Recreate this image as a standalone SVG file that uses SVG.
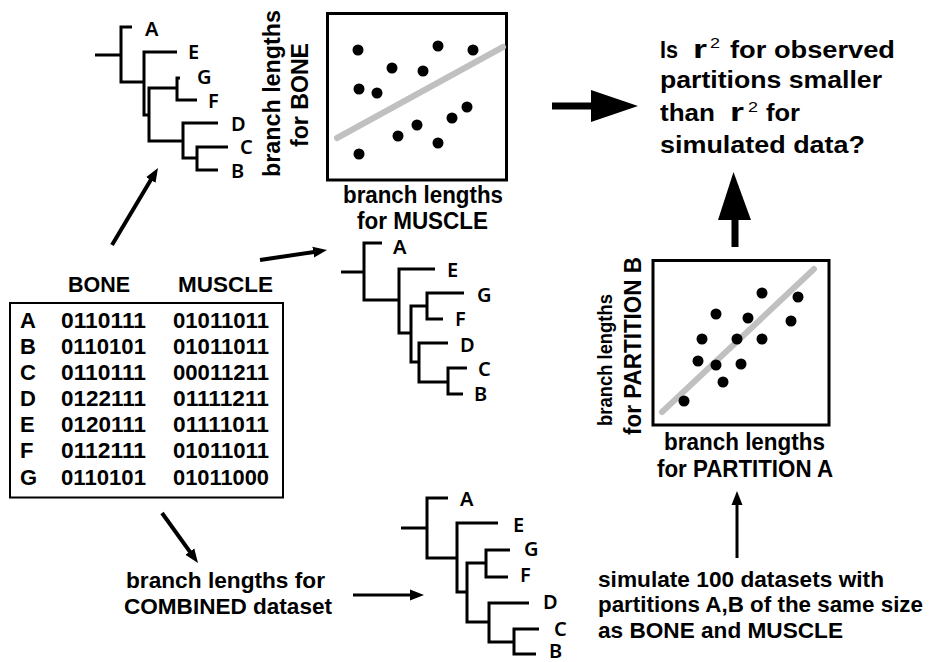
<svg xmlns="http://www.w3.org/2000/svg" width="935" height="662" viewBox="0 0 935 662">
  <style>
    .b { font-family: "Liberation Sans", Arial, sans-serif; font-weight: 700; font-size: 23px; fill: #000; }
    .m { font-family: "Liberation Sans", Arial, sans-serif; font-weight: 700; font-size: 22px; fill: #000; }
    .sup { font-family: "Liberation Sans", Arial, sans-serif; font-weight: 400; font-size: 14px; fill: #000; }
    .t { font-family: "Noto Sans", "DejaVu Sans", sans-serif; font-weight: 600; font-size: 20px; fill: #000; }
    .br { fill: none; stroke: #000; stroke-width: 3; stroke-linejoin: miter; }
    .box { fill: none; stroke: #000; stroke-width: 3; }
    .fit { fill: none; stroke: #c0c0c0; stroke-width: 6; stroke-linecap: round; }
    .dot { fill: #000; }
    .arw { fill: none; stroke: #000; stroke-width: 4; marker-end: url(#head); }
    .arw3 { fill: none; stroke: #000; stroke-width: 3; marker-end: url(#head); }
  </style>
  <defs>
    <marker id="head" markerUnits="userSpaceOnUse" markerWidth="15" markerHeight="12" refX="8" refY="6" orient="auto">
      <path d="M0,0.5 L14,6 L0,11.5 z" fill="#000"/>
    </marker>
  </defs>

  <rect width="935" height="662" fill="#fff"/>

  <!-- tree estimated from BONE -->
  <g id="tree-bone">
    <path class="br" d="M95,55 H121"/>
    <path class="br" d="M132,27 H121 V82 H144"/>
    <path class="br" d="M177,52 H144 V115 H149"/>
    <path class="br" d="M177,88 H149 V141 H183"/>
    <path class="br" d="M180,78 H177 V100 H197"/>
    <path class="br" d="M218,123 H183 V158 H197"/>
    <path class="br" d="M228,147 H197 V170 H218"/>
    <text class="t" x="145" y="36">A</text>
    <text class="t" x="188" y="59">E</text>
    <text class="t" x="197" y="84">G</text>
    <text class="t" x="208" y="108">F</text>
    <text class="t" x="231" y="131">D</text>
    <text class="t" x="240" y="154">C</text>
    <text class="t" x="231" y="178">B</text>
  </g>

  <!-- observed scatter: BONE vs MUSCLE -->
  <g id="scatter-observed">
    <rect class="box" x="327.5" y="13.5" width="179" height="166.5"/>
    <line class="fit" x1="337" y1="138" x2="503" y2="47"/>
    <g class="dot">
      <circle cx="358" cy="50" r="5.5"/>
      <circle cx="438" cy="46" r="5.5"/>
      <circle cx="473" cy="50" r="5.5"/>
      <circle cx="392" cy="68" r="5.5"/>
      <circle cx="423" cy="71" r="5.5"/>
      <circle cx="359" cy="89" r="5.5"/>
      <circle cx="377" cy="93" r="5.5"/>
      <circle cx="467" cy="107" r="5.5"/>
      <circle cx="452" cy="118" r="5.5"/>
      <circle cx="417" cy="125" r="5.5"/>
      <circle cx="398" cy="136" r="5.5"/>
      <circle cx="438" cy="143" r="5.5"/>
      <circle cx="359" cy="154" r="5.5"/>
    </g>
    <text class="b" transform="translate(280,177) rotate(-90)" textLength="167" lengthAdjust="spacingAndGlyphs">branch lengths</text>
    <text class="b" transform="translate(308,147) rotate(-90)" textLength="104" lengthAdjust="spacingAndGlyphs">for BONE</text>
    <text class="b" x="343" y="203" textLength="160" lengthAdjust="spacingAndGlyphs">branch lengths</text>
    <text class="b" x="357" y="229" textLength="131" lengthAdjust="spacingAndGlyphs">for MUSCLE</text>
  </g>

  <!-- question -->
  <g id="question">
    <text class="b" x="660" y="58" textLength="18" lengthAdjust="spacingAndGlyphs">Is</text>
    <text class="b" x="693" y="58" style="font-size:26px" textLength="14" lengthAdjust="spacingAndGlyphs">r</text>
    <text class="sup" x="710" y="48" textLength="10" lengthAdjust="spacingAndGlyphs">2</text>
    <text class="b" x="730" y="58" textLength="165" lengthAdjust="spacingAndGlyphs">for observed</text>
    <text class="b" x="660" y="88" textLength="222" lengthAdjust="spacingAndGlyphs">partitions smaller</text>
    <text class="b" x="660" y="121" textLength="55" lengthAdjust="spacingAndGlyphs">than</text>
    <text class="b" x="730" y="121" style="font-size:26px" textLength="14" lengthAdjust="spacingAndGlyphs">r</text>
    <text class="sup" x="748" y="112" textLength="10" lengthAdjust="spacingAndGlyphs">2</text>
    <text class="b" x="766" y="121" textLength="34" lengthAdjust="spacingAndGlyphs">for</text>
    <text class="b" x="660" y="153" textLength="205" lengthAdjust="spacingAndGlyphs">simulated data?</text>
  </g>

  <!-- tree estimated from MUSCLE -->
  <g id="tree-muscle">
    <path class="br" d="M341,272 H364"/>
    <path class="br" d="M382,243 H364 V300 H399"/>
    <path class="br" d="M435,269 H399 V333 H411"/>
    <path class="br" d="M427,306 H411 V362 H419"/>
    <path class="br" d="M464,293 H427 V319 H443"/>
    <path class="br" d="M448,343 H419 V382 H448"/>
    <path class="br" d="M467,368 H448 V394 H463"/>
    <text class="t" x="393" y="254">A</text>
    <text class="t" x="447" y="277">E</text>
    <text class="t" x="477" y="302">G</text>
    <text class="t" x="455" y="326">F</text>
    <text class="t" x="460" y="352">D</text>
    <text class="t" x="478" y="376">C</text>
    <text class="t" x="474" y="401">B</text>
  </g>

  <!-- character matrix -->
  <g id="matrix">
    <text class="m" x="68" y="292" textLength="62" lengthAdjust="spacingAndGlyphs">BONE</text>
    <text class="m" x="178" y="292" textLength="95" lengthAdjust="spacingAndGlyphs">MUSCLE</text>
    <rect x="10" y="303" width="273" height="194.5" fill="none" stroke="#000" stroke-width="2"/>
    <g>
      <text class="m" x="20" y="328">A</text>
      <text class="m" x="61" y="328" textLength="85" lengthAdjust="spacingAndGlyphs">0110111</text>
      <text class="m" x="173" y="328" textLength="96" lengthAdjust="spacingAndGlyphs">01011011</text>
      <text class="m" x="20" y="354">B</text>
      <text class="m" x="61" y="354" textLength="85" lengthAdjust="spacingAndGlyphs">0110101</text>
      <text class="m" x="173" y="354" textLength="96" lengthAdjust="spacingAndGlyphs">01011011</text>
      <text class="m" x="20" y="380">C</text>
      <text class="m" x="61" y="380" textLength="85" lengthAdjust="spacingAndGlyphs">0110111</text>
      <text class="m" x="173" y="380" textLength="96" lengthAdjust="spacingAndGlyphs">00011211</text>
      <text class="m" x="20" y="406">D</text>
      <text class="m" x="61" y="406" textLength="85" lengthAdjust="spacingAndGlyphs">0122111</text>
      <text class="m" x="173" y="406" textLength="96" lengthAdjust="spacingAndGlyphs">01111211</text>
      <text class="m" x="20" y="432">E</text>
      <text class="m" x="61" y="432" textLength="85" lengthAdjust="spacingAndGlyphs">0120111</text>
      <text class="m" x="173" y="432" textLength="96" lengthAdjust="spacingAndGlyphs">01111011</text>
      <text class="m" x="20" y="458">F</text>
      <text class="m" x="61" y="458" textLength="85" lengthAdjust="spacingAndGlyphs">0112111</text>
      <text class="m" x="173" y="458" textLength="96" lengthAdjust="spacingAndGlyphs">01011011</text>
      <text class="m" x="20" y="485">G</text>
      <text class="m" x="61" y="485" textLength="85" lengthAdjust="spacingAndGlyphs">0110101</text>
      <text class="m" x="173" y="485" textLength="96" lengthAdjust="spacingAndGlyphs">01011000</text>
    </g>
  </g>

  <!-- simulated scatter: partition A vs partition B -->
  <g id="scatter-simulated">
    <rect class="box" x="653" y="260.5" width="176" height="164.5"/>
    <line class="fit" x1="662" y1="412" x2="814" y2="269"/>
    <g class="dot">
      <circle cx="762" cy="293" r="5.5"/>
      <circle cx="798" cy="297" r="5.5"/>
      <circle cx="716" cy="314" r="5.5"/>
      <circle cx="748" cy="318" r="5.5"/>
      <circle cx="791" cy="321" r="5.5"/>
      <circle cx="702" cy="339" r="5.5"/>
      <circle cx="737" cy="339" r="5.5"/>
      <circle cx="762" cy="339" r="5.5"/>
      <circle cx="698" cy="361" r="5.5"/>
      <circle cx="716" cy="365" r="5.5"/>
      <circle cx="741" cy="364" r="5.5"/>
      <circle cx="723" cy="382" r="5.5"/>
      <circle cx="684" cy="401" r="5.5"/>
    </g>
    <text class="b" transform="translate(612,426) rotate(-90)" style="font-size:21px" textLength="132" lengthAdjust="spacingAndGlyphs">branch lengths</text>
    <text class="b" transform="translate(641,435) rotate(-90)" textLength="178" lengthAdjust="spacingAndGlyphs">for PARTITION B</text>
    <text class="b" x="664" y="450" textLength="161" lengthAdjust="spacingAndGlyphs">branch lengths</text>
    <text class="b" x="657" y="477" textLength="176" lengthAdjust="spacingAndGlyphs">for PARTITION A</text>
  </g>

  <!-- combined-data label -->
  <g id="combined-label">
    <text class="m" x="126" y="588" textLength="199" lengthAdjust="spacingAndGlyphs">branch lengths for</text>
    <text class="m" x="124" y="614" textLength="208" lengthAdjust="spacingAndGlyphs">COMBINED dataset</text>
  </g>

  <!-- tree estimated from the combined data -->
  <g id="tree-combined">
    <path class="br" d="M401,528 H427"/>
    <path class="br" d="M448,498 H427 V558 H457"/>
    <path class="br" d="M498,523 H457 V592 H467"/>
    <path class="br" d="M486,563 H467 V622 H489"/>
    <path class="br" d="M510,550 H486 V577 H508"/>
    <path class="br" d="M529,603 H489 V642 H514"/>
    <path class="br" d="M539,629 H514 V654 H536"/>
    <text class="t" x="460" y="506">A</text>
    <text class="t" x="513" y="532">E</text>
    <text class="t" x="524" y="556">G</text>
    <text class="t" x="520" y="582">F</text>
    <text class="t" x="543" y="609">D</text>
    <text class="t" x="554" y="636">C</text>
    <text class="t" x="549" y="658">B</text>
  </g>

  <!-- simulation label -->
  <g id="simulate-label">
    <text class="m" x="598" y="587" textLength="286" lengthAdjust="spacingAndGlyphs">simulate 100 datasets with</text>
    <text class="m" x="598" y="612" textLength="325" lengthAdjust="spacingAndGlyphs">partitions A,B of the same size</text>
    <text class="m" x="598" y="638" textLength="245" lengthAdjust="spacingAndGlyphs">as BONE and MUSCLE</text>
  </g>

  <!-- connectors -->
  <g id="connectors">
    <line class="arw" x1="112" y1="245" x2="154.9" y2="173.1"/>
    <line class="arw" x1="260" y1="260" x2="321.1" y2="250.9"/>
    <line class="arw" x1="162" y1="513" x2="194.5" y2="558.1"/>
    <line class="arw3" x1="353" y1="595" x2="418" y2="595"/>
    <line class="arw3" x1="737" y1="558" x2="737" y2="497"/>
    <!-- large arrow toward the question -->
    <rect x="552" y="102.5" width="40" height="7"/>
    <polygon points="591,90 638,106 591,122"/>
    <!-- large arrow up from the simulated scatter -->
    <rect x="731.5" y="219" width="7" height="28"/>
    <polygon points="733.5,172 718,220 751,220"/>
  </g>
</svg>
